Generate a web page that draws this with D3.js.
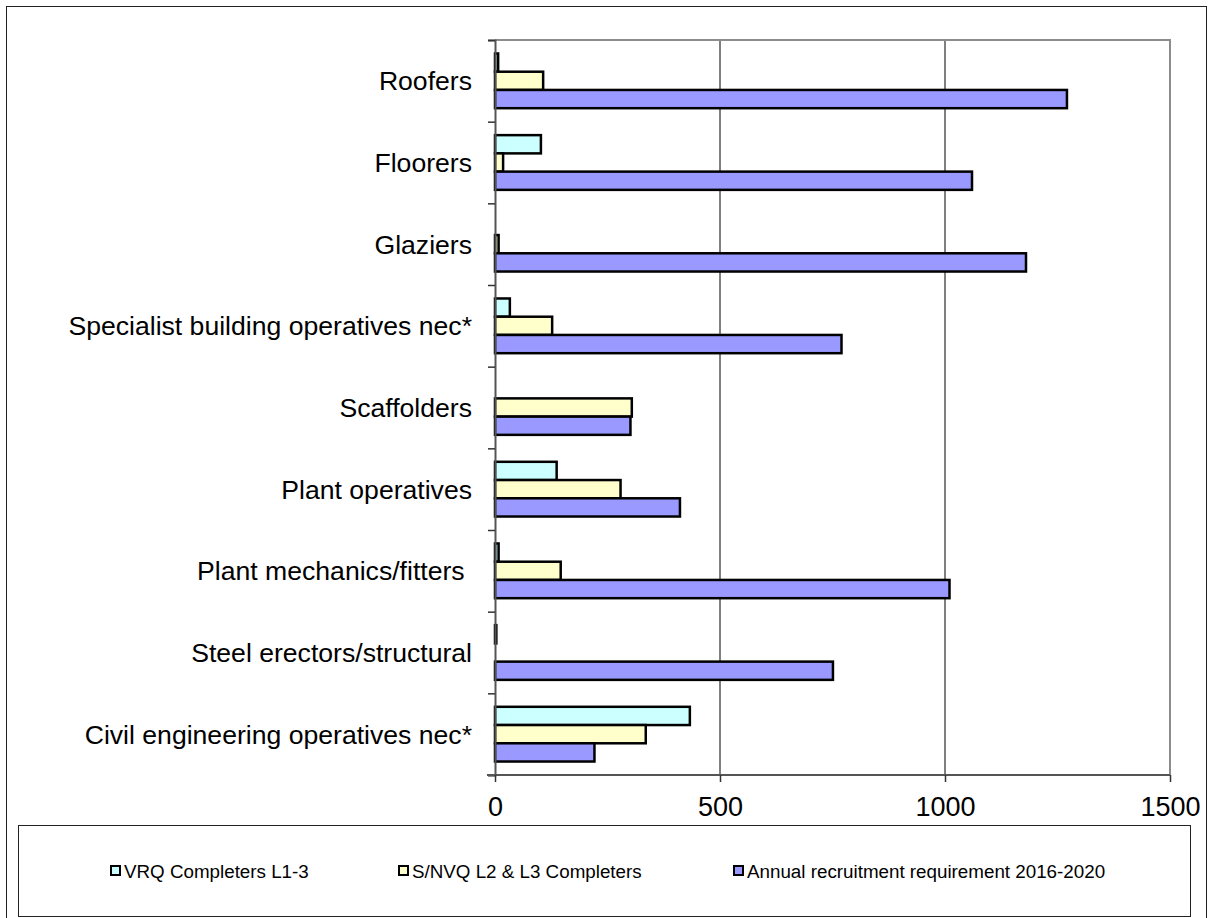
<!DOCTYPE html>
<html>
<head>
<meta charset="utf-8">
<script src="https://cdn.jsdelivr.net/npm/d3@7"></script>
<style>
  body { margin: 0; background: #fff; }
  text { font-family: Arial, "Liberation Sans", sans-serif; fill: #000; }
</style>
</head>
<body>
<svg id="chart"></svg>
<script>
// chart data
const categories = ['Roofers', 'Floorers', 'Glaziers', 'Specialist building operatives nec*', 'Scaffolders',
  'Plant operatives', 'Plant mechanics/fitters ', 'Steel erectors/structural', 'Civil engineering operatives nec*']
const seriesNames = ['VRQ Completers L1-3', 'S/NVQ L2 & L3 Completers', 'Annual recruitment requirement 2016-2020']
const vrq = [7, 102, 0, 33, 0, 137, 8, 3, 433]
const snvq = [107, 18, 8, 127, 304, 279, 146, 0, 335]
const annual = [1271, 1060, 1180, 770, 301, 411, 1010, 751, 221]
const xTicks = [0, 500, 1000, 1500]
const colors = ['#CCFFFF', '#FFFFCC', '#9999FF']

const WIDTH = 1213
const HEIGHT = 918
const SVG = d3.select('#chart').attr('width', WIDTH).attr('height', HEIGHT)

// plot box
const LEFT = 495, RIGHT = 1170, TOP = 40, BOTTOM = 775

const allValues = [vrq, snvq, annual]
const rows = []
categories.forEach((c, i) => {
  seriesNames.forEach((s, j) => rows.push({ cat: c, series: s, value: allValues[j][i], color: colors[j] }))
})

const xScale = d3.scaleLinear().domain([0, 1500]).range([LEFT, RIGHT])
const yScale = d3.scaleBand().domain(categories).range([TOP, BOTTOM])
  .paddingInner(0.33).paddingOuter(0.165)
const ySub = d3.scaleBand().domain(seriesNames).range([0, yScale.bandwidth()])
// category boundary ticks (excel style, between groups)
const yTickScale = d3.scaleLinear().domain([0, categories.length]).range([TOP, BOTTOM])

// outer frame
SVG.append('rect')
  .attr('x', 6.5).attr('y', 6.5).attr('width', 1200).attr('height', 930)
  .attr('fill', 'none').attr('stroke', '#222').attr('stroke-width', 1)

// gridlines
SVG.append('g').selectAll('line')
  .data(xTicks.filter(t => t > 0 && t < 1500))
  .enter().append('line')
  .attr('x1', d => xScale(d)).attr('x2', d => xScale(d))
  .attr('y1', TOP).attr('y2', BOTTOM)
  .attr('stroke', '#000').attr('stroke-width', 1)

// plot frame top/right
SVG.append('path')
  .attr('d', `M${LEFT},${TOP}H${RIGHT}V${BOTTOM}`)
  .attr('fill', 'none').attr('stroke', '#8c8c8c').attr('stroke-width', 2)

// bars
SVG.append('g').selectAll('rect')
  .data(rows.filter(d => d.value > 0))
  .enter().append('rect')
  .attr('x', xScale(0))
  .attr('y', d => yScale(d.cat) + ySub(d.series))
  .attr('width', d => xScale(d.value) - xScale(0))
  .attr('height', ySub.bandwidth())
  .attr('fill', d => d.color)
  .attr('stroke', '#000').attr('stroke-width', 2.5)

// y axis
let y_axis = d3.axisLeft(yTickScale)
  .tickValues(d3.range(0, categories.length + 1))
  .tickSize(7).tickFormat('')
SVG.append('g')
  .attr('transform', `translate(${LEFT},0)`)
  .call(y_axis)
  .call(g => g.selectAll('line').attr('stroke', '#333').attr('stroke-width', 1.5))
  .call(g => g.select('.domain').attr('stroke', '#555').attr('stroke-width', 2))

// category labels
SVG.append('g').selectAll('text')
  .data(categories)
  .enter().append('text')
  .attr('x', 472)
  .attr('y', d => yScale(d) + yScale.bandwidth() / 2)
  .attr('dy', '0.36em')
  .attr('text-anchor', 'end')
  .style('white-space', 'pre')
  .style('font-size', '26.6px')
  .text(d => d)

// x axis
let x_axis = d3.axisBottom(xScale).tickValues(xTicks).tickFormat(d3.format('d'))
  .tickSize(7).tickPadding(15)
SVG.append('g')
  .attr('transform', `translate(0,${BOTTOM})`)
  .call(x_axis)
  .call(g => g.select('.domain').attr('d', `M${LEFT - 8},0H${RIGHT}`).attr('stroke', '#555').attr('stroke-width', 2))
  .call(g => g.selectAll('line').attr('stroke', '#333').attr('stroke-width', 1.5))
  .call(g => g.selectAll('text').style('font-size', '27px').attr('font-family', null))

// legend
const legend = SVG.append('g')
legend.append('rect')
  .attr('x', 18.5).attr('y', 825.5).attr('width', 1172).attr('height', 91)
  .attr('fill', '#fff').attr('stroke', '#222').attr('stroke-width', 1)
const legendX = [110, 398, 733]
const items = legend.selectAll('g.item')
  .data(seriesNames)
  .enter().append('g').attr('class', 'item')
  .attr('transform', (d, i) => `translate(${legendX[i]},866)`)
items.append('rect')
  .attr('x', 1).attr('y', 0).attr('width', 9).attr('height', 9)
  .attr('fill', (d, i) => colors[i]).attr('stroke', '#000').attr('stroke-width', 2)
items.append('text')
  .attr('x', 14).attr('y', 12)
  .style('font-size', '18.8px')
  .text(d => d)
</script>
</body>
</html>
